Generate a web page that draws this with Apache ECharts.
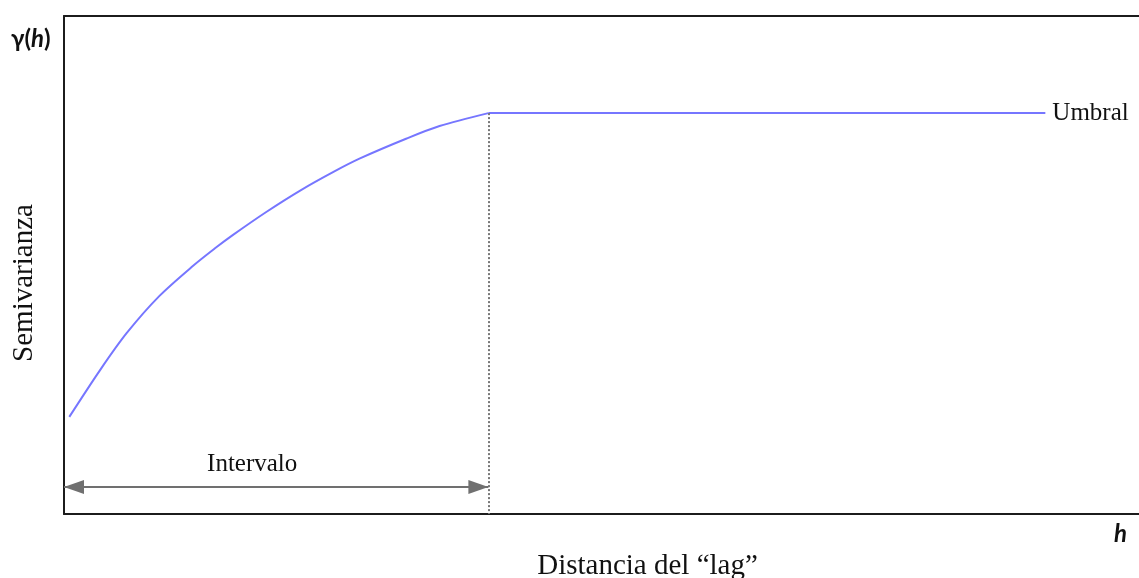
<!DOCTYPE html>
<html>
<head>
<meta charset="utf-8">
<script src="https://cdn.jsdelivr.net/npm/echarts@6/dist/echarts.min.js"></script>
<style>
  html, body { margin: 0; padding: 0; background: #fff; }
  #chart { width: 1139px; height: 578px; }
</style>
</head>
<body>
<div id="chart"></div>
<script>
// Semivariogram: rising curve up to the range, then flat at the sill
const lagH  = [0.05, 0.34, 0.59, 0.9, 1.22, 1.42, 1.59, 1.91, 2.23, 2.54, 2.79, 3.23, 3.54, 4.0];
const gamma = [1.95, 2.89, 3.63, 4.38, 4.99, 5.33, 5.6, 6.07, 6.5, 6.87, 7.14, 7.54, 7.79, 8.05];
const rangeH = 4.0;      // lag where the sill is reached
const sill = 8.05;       // sill value
const sillEndH = 9.25;   // where the flat segment stops
const intervalY = 0.54;  // height of the "Intervalo" arrow

const curveData = lagH.map((h, i) => [h, gamma[i]]);
const sillData = [[rangeH, sill], [sillEndH, sill]];

const serif = '"Liberation Serif", "DejaVu Serif", serif';
const sans = 'Lato, "Open Sans", sans-serif';
const lineColor = '#7676ff';
const axisStyle = { lineStyle: { color: '#1c1c1c', width: 2 } };

const chart = echarts.init(document.getElementById('chart'));
chart.setOption({
  animation: false,
  grid: {
    left: 64, right: -92, top: 16, bottom: 64,
    containLabel: false, outerBoundsMode: 'none'
  },
  xAxis: [
    {
      type: 'value', min: 0, max: 11, position: 'bottom',
      axisLine: { show: true, ...axisStyle }, axisTick: { show: false },
      axisLabel: { show: false }, splitLine: { show: false },
      name: 'Distancia del \u201clag\u201d', nameLocation: 'middle', nameGap: 38,
      nameTextStyle: { fontFamily: serif, fontSize: 29, color: '#111' }
    },
    {
      type: 'value', min: 0, max: 11, position: 'top',
      axisLine: { show: true, ...axisStyle }, axisTick: { show: false },
      axisLabel: { show: false }, splitLine: { show: false }
    }
  ],
  yAxis: {
    type: 'value', min: 0, max: 10,
    axisLine: { show: true, ...axisStyle }, axisTick: { show: false },
    axisLabel: { show: false }, splitLine: { show: false },
    name: 'Semivarianza', nameLocation: 'middle', nameRotate: 90, nameGap: 25,
    nameTextStyle: {
      fontFamily: serif, fontSize: 29, color: '#111', padding: [0, 36, 0, 0]
    }
  },
  graphic: [
    {
      type: 'text', left: 11, top: 27,
      style: {
        text: '{b|\u03b3(}{bi|h}{b|)}',
        rich: {
          b: { fontFamily: sans, fontWeight: 'bold', fontSize: 24, fill: '#111' },
          bi: { fontFamily: sans, fontWeight: 'bold', fontStyle: 'italic', fontSize: 24, fill: '#111' }
        }
      }
    },
    {
      type: 'text', left: 1114, top: 522,
      style: {
        text: 'h', fontFamily: sans, fontWeight: 'bold', fontStyle: 'italic',
        fontSize: 24, fill: '#111'
      }
    }
  ],
  series: [
    {
      type: 'line', data: curveData, smooth: 0.3, showSymbol: false,
      lineStyle: { color: lineColor, width: 2 }
    },
    {
      type: 'line', data: sillData, showSymbol: false,
      lineStyle: { color: lineColor, width: 2 },
      endLabel: {
        show: true, formatter: 'Umbral', distance: 7,
        fontFamily: serif, fontSize: 25, color: '#111'
      },
      markLine: {
        silent: true, symbol: 'none',
        lineStyle: { color: '#777', type: 'dotted', width: 2 },
        label: { show: false },
        data: [[{ coord: [rangeH, sill] }, { coord: [rangeH, 0] }]]
      }
    },
    {
      type: 'line', data: [], showSymbol: false,
      markLine: {
        silent: true, symbol: ['triangle', 'triangle'], symbolSize: [14, 20],
        // pull each head inward so its tip sits on the line end
        symbolOffset: [[0, 10], [0, 10]],
        lineStyle: { color: '#707070', type: 'solid', width: 2 },
        itemStyle: { color: '#707070' },
        label: {
          show: true, position: 'middle', formatter: 'Intervalo', distance: 10,
          offset: [-24, 0], fontFamily: serif, fontSize: 25, color: '#111'
        },
        data: [[{ coord: [0, intervalY] }, { coord: [rangeH, intervalY] }]]
      }
    }
  ]
});
</script>
</body>
</html>
